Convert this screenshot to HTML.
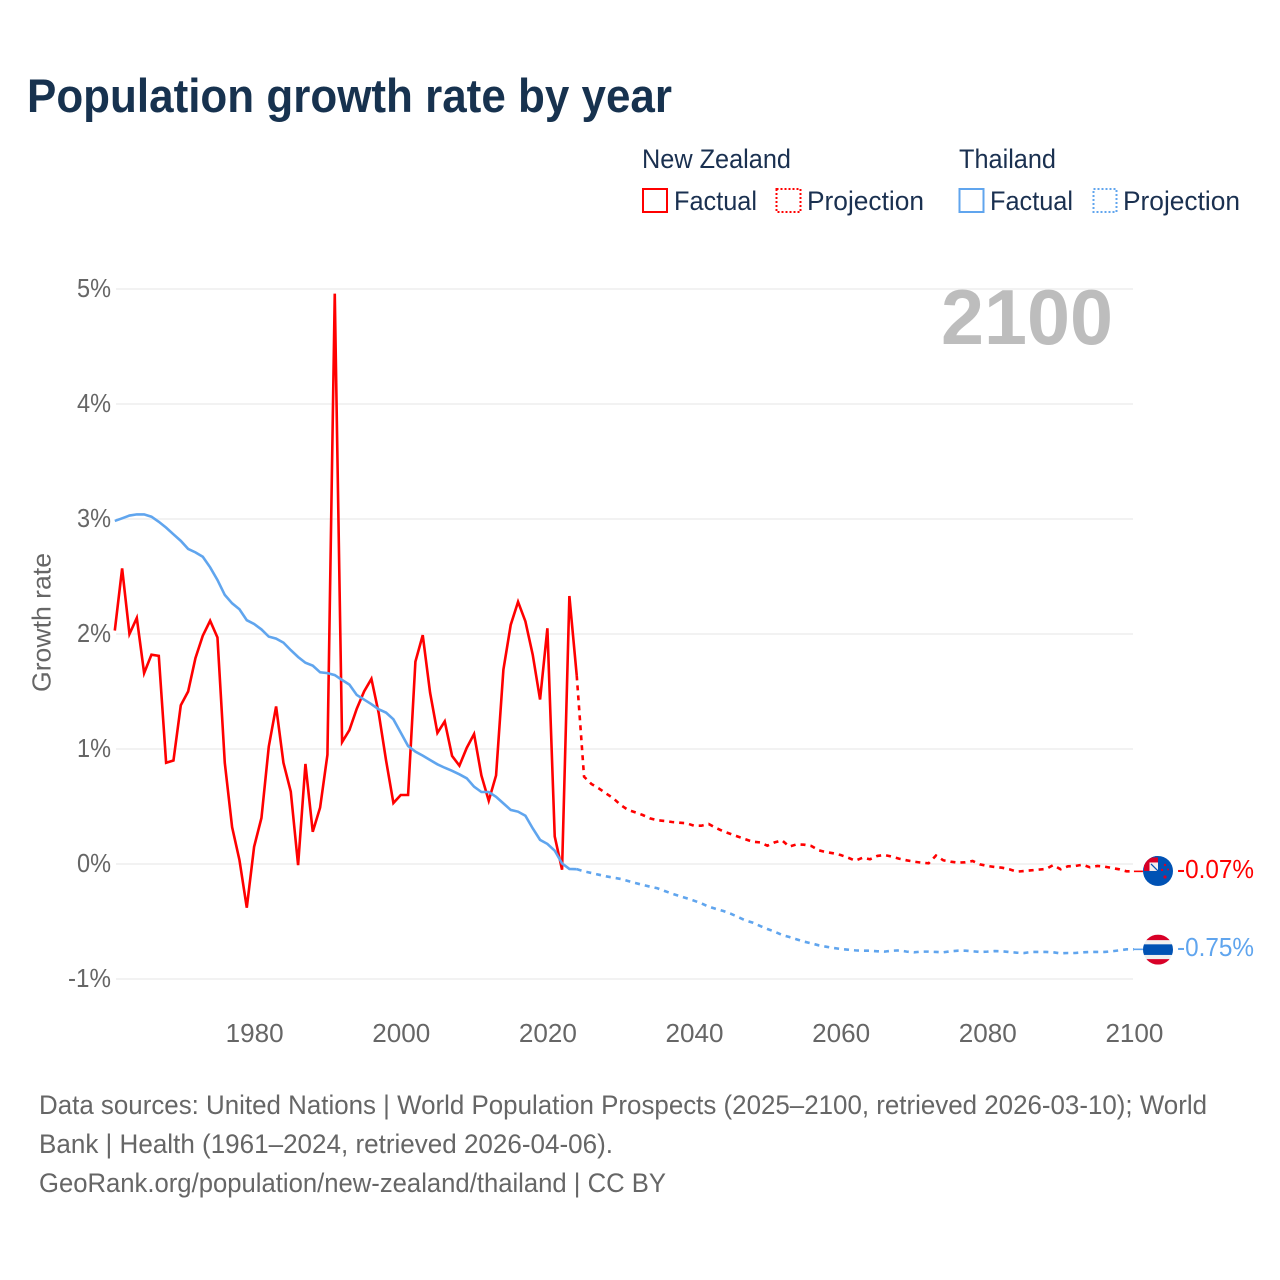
<!DOCTYPE html>
<html lang="en">
<head>
<meta charset="utf-8">
<title>Population growth rate by year</title>
<style>
html,body{margin:0;padding:0;background:#fff;}
svg{display:block;font-family:"Liberation Sans",sans-serif;}
</style>
</head>
<body>
<svg id="chart" width="1280" height="1280" viewBox="0 0 1280 1280" xmlns="http://www.w3.org/2000/svg">
  <rect x="0" y="0" width="1280" height="1280" fill="#ffffff"/>
  <text x="27" y="112" font-size="47" font-weight="700" fill="#17324f" textLength="645" lengthAdjust="spacingAndGlyphs">Population growth rate by year</text>

  <g font-size="27" fill="#1a3050">
    <text x="642" y="168" textLength="149" lengthAdjust="spacingAndGlyphs">New Zealand</text>
    <text x="959" y="168" textLength="97" lengthAdjust="spacingAndGlyphs">Thailand</text>
    <rect x="643" y="189" width="24" height="23" fill="none" stroke="#ff0000" stroke-width="2"/>
    <text x="674" y="210" textLength="83" lengthAdjust="spacingAndGlyphs">Factual</text>
    <rect x="776.5" y="189" width="24" height="23" fill="none" stroke="#ff0000" stroke-width="2" stroke-dasharray="2 2"/>
    <text x="807" y="210" textLength="117" lengthAdjust="spacingAndGlyphs">Projection</text>
    <rect x="959.5" y="189" width="24" height="23" fill="none" stroke="#60a5ee" stroke-width="2"/>
    <text x="990" y="210" textLength="83" lengthAdjust="spacingAndGlyphs">Factual</text>
    <rect x="1093.5" y="189" width="23" height="23" fill="none" stroke="#60a5ee" stroke-width="2" stroke-dasharray="2 2"/>
    <text x="1123" y="210" textLength="117" lengthAdjust="spacingAndGlyphs">Projection</text>
  </g>

  <text transform="translate(50.5,692) rotate(-90)" font-size="26" fill="#666666" textLength="139" lengthAdjust="spacingAndGlyphs">Growth rate</text>

  <g id="grid"></g>
  <g id="yticks" font-size="26" fill="#666666" text-anchor="end"></g>
  <g id="xticks" font-size="26" fill="#666666" text-anchor="middle"></g>

  <text x="941" y="344" font-size="78" font-weight="700" fill="#bdbdbd" textLength="172" lengthAdjust="spacingAndGlyphs">2100</text>

  <g id="series"></g>

  <g id="flag-nz">
    <clipPath id="clip-nz"><circle cx="0" cy="0" r="15"/></clipPath>
    <g clip-path="url(#clip-nz)">
      <rect x="-15" y="-15" width="30" height="30" fill="#0052b4"/>
      <rect x="-14" y="-14" width="14" height="14" fill="#d80027"/>
      <rect x="-15" y="-15" width="15" height="1.5" fill="#0052b4"/>
      <rect x="-8.5" y="-8.5" width="8.5" height="8.5" fill="#f0f0f0"/>
      <path d="M-7 -7 L0 0" stroke="#0052b4" stroke-width="1.2"/>
      <path d="M-15 -1.5 L-9 -1.5" stroke="#f0f0f0" stroke-width="0"/>
      <circle cx="7" cy="-6" r="1.2" fill="#d80027"/>
      <circle cx="4" cy="-1" r="1.2" fill="#d80027"/>
      <circle cx="10" cy="-1.5" r="1" fill="#d80027"/>
      <circle cx="7" cy="6" r="1.6" fill="#d80027"/>
    </g>
  </g>
  <g id="flag-th">
    <clipPath id="clip-th"><circle cx="0" cy="0" r="15"/></clipPath>
    <g clip-path="url(#clip-th)">
      <rect x="-15" y="-15" width="30" height="30" fill="#f0f0f0"/>
      <rect x="-15" y="-15" width="30" height="5.5" fill="#d80027"/>
      <rect x="-15" y="9.5" width="30" height="5.5" fill="#d80027"/>
      <rect x="-15" y="-5.3" width="30" height="10.6" fill="#0052b4"/>
    </g>
  </g>
  <text id="value-nz" x="1177" font-size="26" fill="#ff0000" textLength="77" lengthAdjust="spacingAndGlyphs">-0.07%</text>
  <text id="value-th" x="1177" font-size="26" fill="#60a5ee" textLength="77" lengthAdjust="spacingAndGlyphs">-0.75%</text>

  <g font-size="27" fill="#666666">
    <text x="39" y="1114" textLength="1168" lengthAdjust="spacingAndGlyphs">Data sources: United Nations | World Population Prospects (2025–2100, retrieved 2026-03-10); World</text>
    <text x="39" y="1153" textLength="574" lengthAdjust="spacingAndGlyphs">Bank | Health (1961–2024, retrieved 2026-04-06).</text>
    <text x="39" y="1192" textLength="627" lengthAdjust="spacingAndGlyphs">GeoRank.org/population/new-zealand/thailand | CC BY</text>
  </g>
</svg>
<script>
const yTicks = [5, 4, 3, 2, 1, 0, -1];
const xTicks = [1980, 2000, 2020, 2040, 2060, 2080, 2100];
const factualStartYear = 1961;
const projectionStartYear = 2024;

const nzFactual = [2.03,2.57,2.0,2.14,1.66,1.82,1.81,0.88,0.90,1.38,1.50,1.79,1.985,2.115,1.97,0.88,0.32,0.035,-0.38,0.15,0.40,1.02,1.37,0.88,0.63,-0.01,0.87,0.28,0.49,0.95,4.96,1.06,1.165,1.35,1.50,1.61,1.31,0.90,0.53,0.60,0.60,1.76,1.99,1.49,1.14,1.24,0.94,0.855,1.01,1.13,0.77,0.55,0.77,1.69,2.08,2.28,2.11,1.82,1.43,2.05,0.24,-0.05,2.33,1.64];

const nzProjection = [1.64,0.759,0.696,0.658,0.614,0.571,0.513,0.470,0.449,0.426,0.397,0.380,0.374,0.365,0.359,0.354,0.333,0.333,0.348,0.313,0.284,0.261,0.238,0.215,0.194,0.188,0.159,0.188,0.206,0.151,0.171,0.168,0.157,0.119,0.104,0.093,0.078,0.055,0.029,0.055,0.041,0.070,0.078,0.064,0.046,0.032,0.020,0.012,0.006,0.073,0.032,0.020,0.012,0.015,0.026,-0.003,-0.017,-0.026,-0.032,-0.046,-0.067,-0.061,-0.055,-0.049,-0.043,-0.009,-0.046,-0.020,-0.017,-0.006,-0.029,-0.017,-0.023,-0.035,-0.046,-0.064,-0.064];

const thFactual = [2.983,3.006,3.03,3.04,3.04,3.02,2.976,2.925,2.867,2.81,2.74,2.71,2.672,2.58,2.47,2.34,2.267,2.215,2.12,2.087,2.04,1.977,1.96,1.925,1.86,1.80,1.75,1.725,1.667,1.66,1.643,1.60,1.56,1.47,1.43,1.39,1.345,1.316,1.258,1.142,1.026,0.977,0.942,0.904,0.867,0.837,0.81,0.78,0.745,0.672,0.626,0.626,0.585,0.527,0.47,0.455,0.42,0.31,0.21,0.175,0.116,0.005,-0.043,-0.045];

const thProjection = [-0.045,-0.064,-0.078,-0.093,-0.107,-0.119,-0.130,-0.148,-0.165,-0.182,-0.197,-0.211,-0.235,-0.258,-0.278,-0.298,-0.319,-0.342,-0.371,-0.391,-0.409,-0.432,-0.461,-0.490,-0.510,-0.539,-0.565,-0.588,-0.617,-0.635,-0.655,-0.675,-0.690,-0.707,-0.719,-0.730,-0.739,-0.745,-0.751,-0.754,-0.754,-0.759,-0.762,-0.754,-0.751,-0.762,-0.768,-0.762,-0.762,-0.765,-0.768,-0.759,-0.754,-0.754,-0.759,-0.765,-0.762,-0.757,-0.759,-0.765,-0.771,-0.774,-0.765,-0.765,-0.765,-0.768,-0.777,-0.774,-0.774,-0.768,-0.765,-0.765,-0.765,-0.759,-0.751,-0.742,-0.742];

const SVGNS = 'http://www.w3.org/2000/svg';
const plotLeft = 114.8, pxPerYear = 7.332;
const zeroY = 864, pxPerPercent = 115;

function xScale(year) { return plotLeft + (year - factualStartYear) * pxPerYear; }
function yScale(value) { return zeroY - value * pxPerPercent; }

function make(tag, attrs, parent) {
  const el = document.createElementNS(SVGNS, tag);
  for (const k in attrs) el.setAttribute(k, attrs[k]);
  parent.appendChild(el);
  return el;
}

const gridGroup = document.getElementById('grid');
const yTickGroup = document.getElementById('yticks');
yTicks.forEach(function (t) {
  const line = make('line', { x1: 116, x2: 1133, y1: yScale(t), y2: yScale(t), stroke: '#eeeeee', 'stroke-width': 1.6 }, gridGroup);
  
  
  const label = make('text', { x: 111, y: yScale(t) + 8 }, yTickGroup);
  
  
  label.setAttribute('textLength', t < 0 ? 43 : 34);
  label.setAttribute('lengthAdjust', 'spacingAndGlyphs');
  label.textContent = t + '%';
});

const xTickGroup = document.getElementById('xticks');
xTicks.forEach(function (t) {
  const label = make('text', { x: xScale(t) + 0.5, y: 1042 }, xTickGroup);
  
  
  label.setAttribute('textLength', 58);
  label.setAttribute('lengthAdjust', 'spacingAndGlyphs');
  label.textContent = t;
});

function pointsFor(values, startYear) {
  return values.map(function (v, i) {
    return xScale(startYear + i).toFixed(2) + ',' + yScale(v).toFixed(2);
  }).join(' ');
}

const seriesGroup = document.getElementById('series');

function drawLine(values, startYear, color, dashed, name) {
  const line = make('polyline', {
    points: pointsFor(values, startYear),
    fill: 'none',
    stroke: color,
    'stroke-width': 2.6,
    'stroke-linejoin': 'miter'
  }, seriesGroup);
  if (dashed) line.setAttribute('stroke-dasharray', '5 5');
  
  
}

drawLine(nzProjection, projectionStartYear, '#ff0000', true, 'new-zealand-projection-line');
drawLine(nzFactual, factualStartYear, '#ff0000', false, 'new-zealand-factual-line');
drawLine(thProjection, projectionStartYear, '#60a5ee', true, 'thailand-projection-line');
drawLine(thFactual, factualStartYear, '#60a5ee', false, 'thailand-factual-line');

function drawLeader(value, color, name) {
  const y = yScale(value);
  const lead = make('line', { x1: xScale(2100), x2: xScale(2100) + 9, y1: y, y2: y, stroke: color, 'stroke-width': 1.6 }, seriesGroup);
  
  
}
drawLeader(nzProjection[nzProjection.length - 1], '#ff0000', 'new-zealand-leader-line');
drawLeader(thProjection[thProjection.length - 1], '#60a5ee', 'thailand-leader-line');

const nzEndY = yScale(nzProjection[nzProjection.length - 1]);
const thEndY = yScale(thProjection[thProjection.length - 1]);
document.getElementById('flag-nz').setAttribute('transform', 'translate(1158,' + (nzEndY - 0.4) + ')');
document.getElementById('flag-th').setAttribute('transform', 'translate(1158,' + (thEndY + 0.3) + ')');
document.getElementById('value-nz').setAttribute('y', nzEndY + 6.5);
document.getElementById('value-th').setAttribute('y', thEndY + 6.5);
</script>
</body>
</html>
